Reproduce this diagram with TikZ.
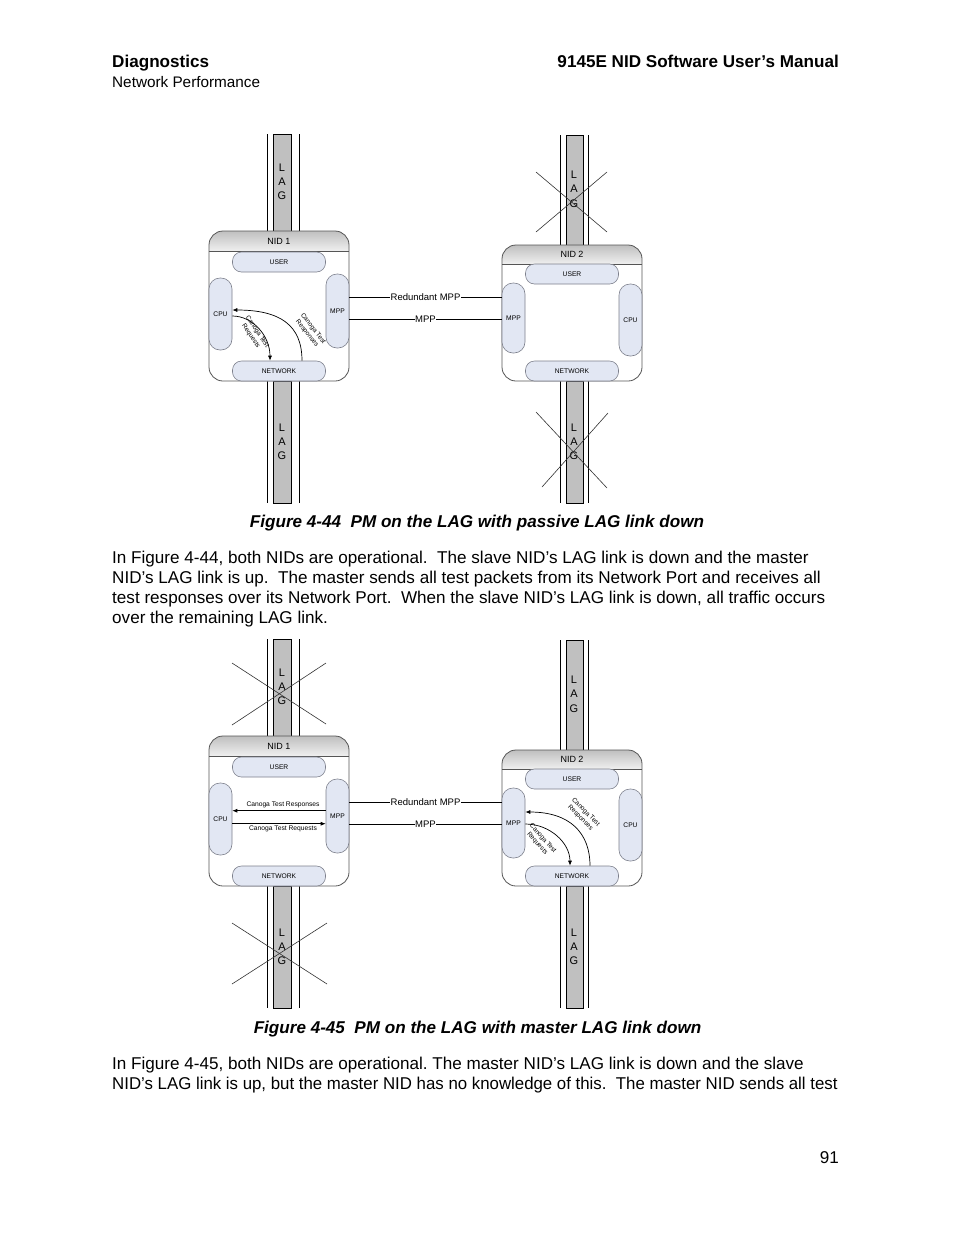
\documentclass[tikz,border=0pt]{standalone}
\usepackage{fontspec}
\setmainfont{Liberation Sans}
\usetikzlibrary{arrows.meta}
\newcommand\fsz[1]{\fontsize{#1}{#1}\selectfont}
\definecolor{pillc}{RGB}{226,231,243}
\definecolor{pilld}{RGB}{125,128,140}
\definecolor{boxd}{RGB}{85,85,85}
\definecolor{lagc}{RGB}{192,192,192}
\frenchspacing
\begin{document}
\begin{tikzpicture}[x=1pt,y=-1pt,
 pill/.style={draw=pilld, fill=pillc, line width=0.6pt, inner sep=0pt, font=\fsz{6.7}},
 hpill/.style={pill, rounded corners=9pt, minimum width=93pt, minimum height=20pt},
 vpill/.style={pill, rounded corners=11pt, minimum width=23pt, minimum height=72pt},
 boxline/.style={draw=boxd, line width=0.8pt},
 lagbar/.style={draw=black, fill=lagc, line width=0.8pt, inner sep=0pt, minimum width=18pt, anchor=north},
 lagside/.style={black, line width=0.8pt},
 lagtxt/.style={font=\fsz{11}, inner sep=0pt},
 cross/.style={black!80, line width=0.6pt},
 mppline/.style={black, line width=0.7pt},
 mpptxt/.style={font=\fsz{9.5}, fill=white, inner sep=0.6pt},
 nidtxt/.style={font=\fsz{9}, inner sep=0pt},
 flow/.style={black, line width=0.7pt, -{Latex[length=5pt,width=4pt]}},
 flowtxt/.style={font=\fontsize{6.5}{7.6}\selectfont, align=center, inner sep=0pt},
 body/.style={font=\fsz{17.1}, anchor=base west, inner sep=0pt},
 capt/.style={font=\fsz{17.1}\bfseries\itshape, anchor=base, inner sep=0pt},
]
\fill[white] (0,0) rectangle (954,1235);
\useasboundingbox (0,0) rectangle (954,1235);

% ---------- page header ----------
\node[font=\fsz{17.1}\bfseries, anchor=base west, inner sep=0pt] (hdl) at (112,67) {Diagnostics};
\node[font=\fsz{15.3}, anchor=base west, inner sep=0pt] (hds) at (112,87.5) {Network Performance};
\node[font=\fsz{17.1}\bfseries, anchor=base east, inner sep=0pt] (hdr) at (839,67) {9145E NID Software User’s Manual};

% =================== FIGURE 4-44 ===================
\begin{scope}
% LAG bars
\node[lagbar, minimum height=97pt] (lag1ta) at (282,134) {};
\node[lagbar, minimum height=122pt] (lag1ba) at (282,381) {};
\draw[lagside] (267,134) -- (267,231) (299,134) -- (299,231) (267,381) -- (267,503) (299,381) -- (299,503);
\node[lagbar, minimum height=110pt, minimum width=17pt] (lag2ta) at (574.5,135) {};
\node[lagbar, minimum height=122pt, minimum width=17pt] (lag2ba) at (574.5,381) {};
\draw[lagside] (560,135) -- (560,245) (588,135) -- (588,245) (560,381) -- (560,503) (588,381) -- (588,503);
\node[lagtxt] (l1a) at (282,168) {L};
\node[lagtxt] (l2a) at (282,182) {A};
\node[lagtxt] (l3a) at (282,196) {G};
\node[lagtxt] (l4a) at (282,428) {L};
\node[lagtxt] (l5a) at (282,442) {A};
\node[lagtxt] (l6a) at (282,456) {G};
\node[lagtxt] (l7a) at (574,175) {L};
\node[lagtxt] (l8a) at (574,189) {A};
\node[lagtxt] (l9a) at (574,204) {G};
\node[lagtxt] (l10a) at (574,428) {L};
\node[lagtxt] (l11a) at (574,442) {A};
\node[lagtxt] (l12a) at (574,456) {G};
% NID 1 box
\fill[white, rounded corners=14pt] (209,231) rectangle (349,381);
\begin{scope}
\clip[rounded corners=14pt] (209,231) rectangle (349,381);
\shade[top color=gray!50, bottom color=gray!12] (209,231) rectangle (349,251);
\end{scope}
\draw[boxline, rounded corners=14pt] (209,231) rectangle (349,381);
\draw[boxline] (209,251) -- (349,251);
\node[nidtxt] (nid1a) at (279,241.5) {NID 1};
\node[hpill] (user1a) at (279,262) {USER};
\node[hpill] (net1a) at (279,371) {NETWORK};
\node[vpill] (cpu1a) at (220.5,314) {CPU};
\node[vpill, minimum height=74pt] (mpp1a) at (337.5,311) {MPP};
% NID 2 box
\fill[white, rounded corners=14pt] (502,245) rectangle (642,381);
\begin{scope}
\clip[rounded corners=14pt] (502,245) rectangle (642,381);
\shade[top color=gray!50, bottom color=gray!12] (502,245) rectangle (642,264);
\end{scope}
\draw[boxline, rounded corners=14pt] (502,245) rectangle (642,381);
\draw[boxline] (502,264) -- (642,264);
\node[nidtxt] (nid2a) at (572,254.5) {NID 2};
\node[hpill] (user2a) at (572,274) {USER};
\node[hpill] (net2a) at (572,371) {NETWORK};
\node[vpill, minimum height=70pt] (mpp2a) at (513.5,318) {MPP};
\node[vpill] (cpu2a) at (630.5,320) {CPU};
% MPP links
\draw[mppline] (mpp1a.east |- 0,297) -- node[mpptxt] (rmppa) {Redundant MPP} (mpp2a.west |- 0,297);
\draw[mppline] (mpp1a.east |- 0,319) -- node[mpptxt] (mppa) {MPP} (mpp2a.west |- 0,319);
% flows in NID 1
\draw[flow] (net1a.north -| 302,0) .. controls (302,325) and (280,310) .. (cpu1a.east |- 0,310);
\draw[flow] (cpu1a.east |- 0,316) .. controls (253,316) and (270,336) .. (net1a.north -| 270,0);
\node[flowtxt, rotate=-52] (resp1a) at (310,331) {Canoga Test\\Responses};
\node[flowtxt, rotate=-56] (req1a) at (254,334) {Canoga Test\\Requests};
% crosses on NID 2 LAG
\draw[cross] (536,172) -- (607,232);
\draw[cross] (607,172) -- (536,232);
\draw[cross] (536,412) -- (607,488);
\draw[cross] (608,413) -- (542,487);
\end{scope}

\node[capt] (cap1) at (477,527) {Figure 4-44\ \ PM on the LAG with passive LAG link down};

\node[body] (p1) at (112,563) {In Figure 4-44, both NIDs are operational.\ \ The slave NID’s LAG link is down and the master};
\node[body] (p2) at (112,583.3) {NID’s LAG link is up.\ \ The master sends all test packets from its Network Port and receives all};
\node[body] (p3) at (112,603.6) {test responses over its Network Port.\ \ When the slave NID’s LAG link is down, all traffic occurs};
\node[body] (p4) at (112,623.9) {over the remaining LAG link.};

% =================== FIGURE 4-45 ===================
\begin{scope}[yshift=-505pt]
\node[lagbar, minimum height=97pt] (lag1tb) at (282,134) {};
\node[lagbar, minimum height=122pt] (lag1bb) at (282,381) {};
\draw[lagside] (267,134) -- (267,231) (299,134) -- (299,231) (267,381) -- (267,503) (299,381) -- (299,503);
\node[lagbar, minimum height=110pt, minimum width=17pt] (lag2tb) at (574.5,135) {};
\node[lagbar, minimum height=122pt, minimum width=17pt] (lag2bb) at (574.5,381) {};
\draw[lagside] (560,135) -- (560,245) (588,135) -- (588,245) (560,381) -- (560,503) (588,381) -- (588,503);
\node[lagtxt] (l1b) at (282,168) {L};
\node[lagtxt] (l2b) at (282,182) {A};
\node[lagtxt] (l3b) at (282,196) {G};
\node[lagtxt] (l4b) at (282,428) {L};
\node[lagtxt] (l5b) at (282,442) {A};
\node[lagtxt] (l6b) at (282,456) {G};
\node[lagtxt] (l7b) at (574,175) {L};
\node[lagtxt] (l8b) at (574,189) {A};
\node[lagtxt] (l9b) at (574,204) {G};
\node[lagtxt] (l10b) at (574,428) {L};
\node[lagtxt] (l11b) at (574,442) {A};
\node[lagtxt] (l12b) at (574,456) {G};
% NID 1 box
\fill[white, rounded corners=14pt] (209,231) rectangle (349,381);
\begin{scope}
\clip[rounded corners=14pt] (209,231) rectangle (349,381);
\shade[top color=gray!50, bottom color=gray!12] (209,231) rectangle (349,251);
\end{scope}
\draw[boxline, rounded corners=14pt] (209,231) rectangle (349,381);
\draw[boxline] (209,251) -- (349,251);
\node[nidtxt] (nid1b) at (279,241.5) {NID 1};
\node[hpill] (user1b) at (279,262) {USER};
\node[hpill] (net1b) at (279,371) {NETWORK};
\node[vpill] (cpu1b) at (220.5,314) {CPU};
\node[vpill, minimum height=74pt] (mpp1b) at (337.5,311) {MPP};
% NID 2 box
\fill[white, rounded corners=14pt] (502,245) rectangle (642,381);
\begin{scope}
\clip[rounded corners=14pt] (502,245) rectangle (642,381);
\shade[top color=gray!50, bottom color=gray!12] (502,245) rectangle (642,264);
\end{scope}
\draw[boxline, rounded corners=14pt] (502,245) rectangle (642,381);
\draw[boxline] (502,264) -- (642,264);
\node[nidtxt] (nid2b) at (572,254.5) {NID 2};
\node[hpill] (user2b) at (572,274) {USER};
\node[hpill] (net2b) at (572,371) {NETWORK};
\node[vpill, minimum height=70pt] (mpp2b) at (513.5,318) {MPP};
\node[vpill] (cpu2b) at (630.5,320) {CPU};
% MPP links
\draw[mppline] (mpp1b.east |- 0,297) -- node[mpptxt] (rmppb) {Redundant MPP} (mpp2b.west |- 0,297);
\draw[mppline] (mpp1b.east |- 0,319) -- node[mpptxt] (mppb) {MPP} (mpp2b.west |- 0,319);
% flows in NID 1 (straight)
\draw[flow] (mpp1b.west |- 0,305.7) -- (cpu1b.east |- 0,305.7);
\draw[flow] (cpu1b.east |- 0,318.7) -- (mpp1b.west |- 0,318.7);
\node[flowtxt, font=\fsz{6.7}] (resp1b) at (283,299.5) {Canoga Test Responses};
\node[flowtxt, font=\fsz{6.7}] (req1b) at (283,323.5) {Canoga Test Requests};
% flows in NID 2 (curved)
\draw[flow] (net2b.north -| 590,0) .. controls (590,328) and (570,307) .. (mpp2b.east |- 0,307);
\draw[flow] (mpp2b.east |- 0,319) .. controls (550,319) and (570,338) .. (net2b.north -| 570,0);
\node[flowtxt, rotate=-45] (resp2b) at (583,310) {Canoga Test\\Responses};
\node[flowtxt, rotate=-48] (req2b) at (540,336) {Canoga Test\\Requests};
% crosses on NID 1 LAG
\draw[cross] (232,158) -- (326,219);
\draw[cross] (326,158) -- (232,220);
\draw[cross] (232,418) -- (327,479);
\draw[cross] (327,418) -- (232,479);
\end{scope}

\node[capt] (cap2) at (477.5,1033) {Figure 4-45\ \ PM on the LAG with master LAG link down};

\node[body] (q1) at (112,1069) {In Figure 4-45, both NIDs are operational. The master NID’s LAG link is down and the slave};
\node[body] (q2) at (112,1089.3) {\scalebox{0.984}[1]{NID’s LAG link is up, but the master NID has no knowledge of this.\ \ The master NID sends all test}};

\node[font=\fsz{17.1}, anchor=base east, inner sep=0pt] (pg) at (839,1163) {91};
\end{tikzpicture}
\end{document}
